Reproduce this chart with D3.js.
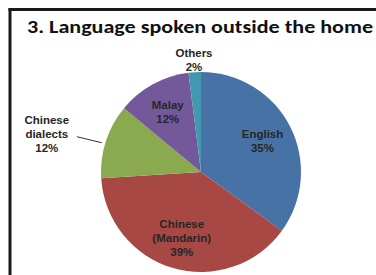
<!DOCTYPE html>
<html>
<head>
<meta charset="utf-8">
<script src="https://cdn.jsdelivr.net/npm/d3@7"></script>
<style>
  html, body { margin: 0; padding: 0; background: #fff; }
  svg { display: block; }
</style>
</head>
<body>
<svg id="chart"></svg>
<script>
// data
var categories = ["English", "Chinese (Mandarin)", "Chinese dialects", "Malay", "Others"];
var percents = [35, 39, 12, 12, 2];
var labelLines = [["English"], ["Chinese", "(Mandarin)"], ["Chinese", "dialects"], ["Malay"], ["Others"]];
var colors = ["#4672a6", "#a84845", "#8aaa50", "#74599a", "#4198af"];

var svgWidth = 376, svgHeight = 275;
var cx = 201, cy = 172, radius = 100;

var svg = d3.select('#chart')
    .attr('width', svgWidth)
    .attr('height', svgHeight);

// frame (only left and top edges are visible in the crop)
svg.append('line')
    .attr('x1', 10).attr('x2', 10).attr('y1', 8).attr('y2', svgHeight)
    .attr('stroke', '#1a1a1a').attr('stroke-width', 3);
svg.append('line')
    .attr('x1', 8.5).attr('x2', svgWidth).attr('y1', 9.5).attr('y2', 9.5)
    .attr('stroke', '#1a1a1a').attr('stroke-width', 3);

svg.append('text')
    .attr('x', 27)
    .attr('y', 33)
    .attr('textLength', 346)
    .attr('lengthAdjust', 'spacingAndGlyphs')
    .style('font-family', 'Carlito, Lato, "Open Sans", sans-serif')
    .style('font-weight', 'bold')
    .style('font-size', '18px')
    .attr('fill', '#111')
    .text('3. Language spoken outside the home');

var data = categories.map(function(c, i) {
    return { name: c, value: percents[i], lines: labelLines[i], color: colors[i] };
});

var pie = d3.pie().sort(null).value(function(d) { return d.value; });
var arcs = pie(data);

var arc = d3.arc().innerRadius(0).outerRadius(radius);
var inLabel = d3.arc().innerRadius(radius * 0.69).outerRadius(radius * 0.69);
var outLabel = d3.arc().innerRadius(radius * 1.12).outerRadius(radius * 1.12);
var edge = d3.arc().innerRadius(radius * 0.98).outerRadius(radius * 0.98);

var g = svg.append('g')
    .attr('transform', 'translate(' + cx + ',' + cy + ')');

g.selectAll('path.slice')
    .data(arcs)
    .enter()
    .append('path')
    .attr('class', 'slice')
    .attr('d', arc)
    .attr('fill', function(d) { return d.data.color; });

// label placement: big slices inside, "Others" above, "Chinese dialects" pulled out left with a leader
function labelPos(d) {
    if (d.data.name === 'Chinese dialects') {
        var e = edge.centroid(d);
        return [e[0] - 61, e[1] - 8];
    }
    if (d.data.value < 5) return outLabel.centroid(d);
    return inLabel.centroid(d);
}

var lineH = 14;
var labels = g.selectAll('g.label')
    .data(arcs)
    .enter()
    .append('g')
    .attr('class', 'label')
    .attr('transform', function(d) {
        var p = labelPos(d);
        return 'translate(' + p[0] + ',' + p[1] + ')';
    });

labels.append('text')
    .attr('text-anchor', 'middle')
    .style('font-family', '"Liberation Sans", Arial, sans-serif')
    .style('font-size', '11.5px')
    .style('font-weight', 'bold')
    .attr('fill', '#262626')
    .each(function(d) {
        var rows = d.data.lines.concat([d.data.value + '%']);
        var t = d3.select(this);
        var top = -(rows.length - 1) * lineH / 2 + 4;
        rows.forEach(function(r, i) {
            t.append('tspan')
                .attr('x', 0)
                .attr('y', top + i * lineH)
                .text(r);
        });
    });

// leader line for the pulled-out label
g.selectAll('path.leader')
    .data(arcs.filter(function(d) { return d.data.name === 'Chinese dialects'; }))
    .enter()
    .append('path')
    .attr('class', 'leader')
    .attr('d', function(d) {
        var p = labelPos(d), e = edge.centroid(d);
        return 'M' + (p[0] + 30) + ',' + (p[1] + 3) + 'L' + (e[0] - 6) + ',' + (e[1] + 1);
    })
    .attr('fill', 'none')
    .attr('stroke', '#333')
    .attr('stroke-width', 1);
</script>
</body>
</html>
